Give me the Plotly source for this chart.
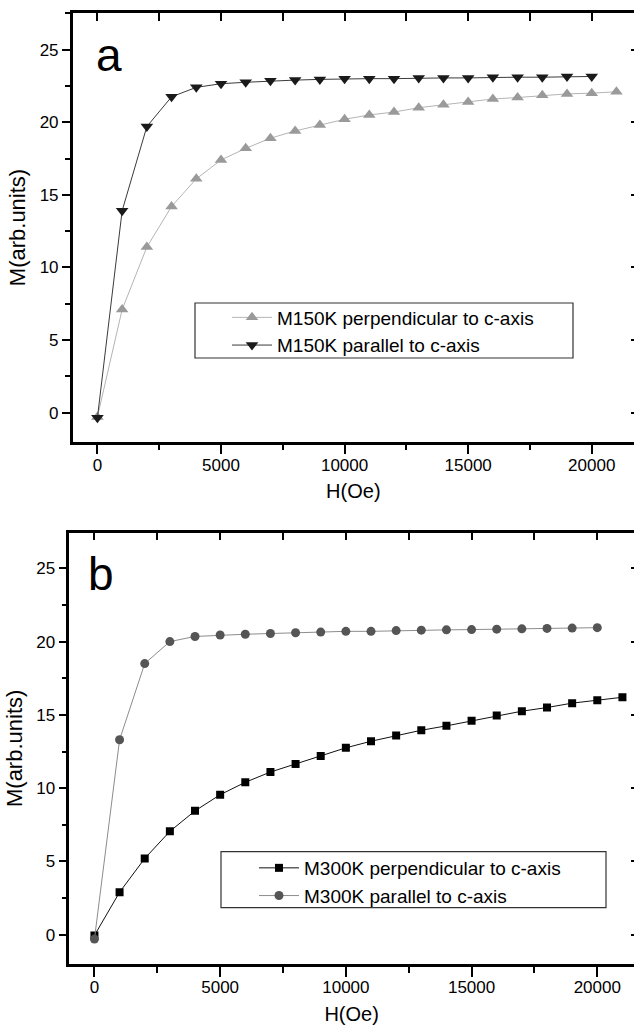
import plotly.graph_objects as go

W, H = 634, 1027

# ---------------- data ----------------
H_a_perp = [0, 1000, 2000, 3000, 4000, 5000, 6000, 7000, 8000, 9000, 10000,
            11000, 12000, 13000, 14000, 15000, 16000, 17000, 18000, 19000, 20000, 21000]
M150_perp = [-0.3, 7.1, 11.4, 14.2, 16.1, 17.4, 18.2, 18.9, 19.4, 19.8, 20.2,
             20.5, 20.7, 21.0, 21.2, 21.4, 21.6, 21.7, 21.85, 21.95, 22.0, 22.1]
H_a_par = [0, 1000, 2000, 3000, 4000, 5000, 6000, 7000, 8000, 9000, 10000,
           11000, 12000, 13000, 14000, 15000, 16000, 17000, 18000, 19000, 20000]
M150_par = [-0.35, 13.9, 19.7, 21.75, 22.4, 22.65, 22.75, 22.85, 22.9, 22.95, 23.0,
            23.0, 23.0, 23.05, 23.05, 23.05, 23.1, 23.1, 23.1, 23.15, 23.15]

H_b_perp = [0, 1000, 2000, 3000, 4000, 5000, 6000, 7000, 8000, 9000, 10000,
            11000, 12000, 13000, 14000, 15000, 16000, 17000, 18000, 19000, 20000, 21000]
M300_perp = [-0.05, 2.9, 5.2, 7.05, 8.45, 9.55, 10.4, 11.1, 11.65, 12.2, 12.75,
             13.2, 13.6, 13.95, 14.25, 14.6, 14.95, 15.25, 15.5, 15.8, 16.0, 16.2]
H_b_par = [0, 1000, 2000, 3000, 4000, 5000, 6000, 7000, 8000, 9000, 10000,
           11000, 12000, 13000, 14000, 15000, 16000, 17000, 18000, 19000, 20000]
M300_par = [-0.3, 13.3, 18.5, 20.0, 20.35, 20.45, 20.5, 20.55, 20.6, 20.65, 20.7,
            20.7, 20.75, 20.78, 20.8, 20.82, 20.85, 20.87, 20.9, 20.92, 20.95]

x_ticks = [0, 5000, 10000, 15000, 20000]
x_tick_labels = ["0", "5000", "10000", "15000", "20000"]
y_ticks = [0, 5, 10, 15, 20, 25]
y_tick_labels = ["0", "5", "10", "15", "20", "25"]

FONT = "Liberation Sans, Arial, Helvetica, sans-serif"

fig = go.Figure()

# panel a
fig.add_trace(go.Scatter(x=H_a_perp, y=M150_perp, mode="lines+markers",
                         name="M150K perpendicular to c-axis",
                         line=dict(color="#b4b4b4", width=1),
                         marker=dict(symbol="triangle-up", size=11, color="#9a9a9a"),
                         xaxis="x", yaxis="y", legend="legend"))
fig.add_trace(go.Scatter(x=H_a_par, y=M150_par, mode="lines+markers",
                         name="M150K parallel to c-axis",
                         line=dict(color="#3a3a3a", width=1),
                         marker=dict(symbol="triangle-down", size=11, color="#1a1a1a"),
                         xaxis="x", yaxis="y", legend="legend"))
# panel b
fig.add_trace(go.Scatter(x=H_b_perp, y=M300_perp, mode="lines+markers",
                         name="M300K perpendicular to c-axis",
                         line=dict(color="#111111", width=1),
                         marker=dict(symbol="square", size=8, color="#000000"),
                         xaxis="x2", yaxis="y2", legend="legend2"))
fig.add_trace(go.Scatter(x=H_b_par, y=M300_par, mode="lines+markers",
                         name="M300K parallel to c-axis",
                         line=dict(color="#8c8c8c", width=1),
                         marker=dict(symbol="circle", size=9, color="#555555"),
                         xaxis="x2", yaxis="y2", legend="legend2"))

# helper traces for mirrored (inside) axes
for xa, ya in [("x3", "y"), ("x4", "y2"), ("x", "y3"), ("x2", "y4")]:
    fig.add_trace(go.Scatter(x=[None], y=[None], xaxis=xa, yaxis=ya,
                             showlegend=False, hoverinfo="skip"))

def px_x(p):
    return p / W

def px_y(p):
    return 1 - p / H

xa_rng = [-1000, 21710]
xb_rng = [-1000, 21460]
ya_rng = [-2, 27.5]
yb_rng = [-2, 27.43]

xdom_a = [px_x(72.7), 1.0]
xdom_b = [px_x(69.3), 1.0]
ydom_a = [px_y(441.7), px_y(13.3)]
ydom_b = [px_y(964), px_y(532.7)]

tickfont = dict(family=FONT, size=17, color="black")
titlefont_x = dict(family=FONT, size=20, color="black")
titlefont_y = dict(family=FONT, size=22, color="black")

def xaxis_main(dom, rng, anchor):
    return dict(domain=dom, range=rng, anchor=anchor, tickmode="array",
                tickvals=x_ticks, ticktext=x_tick_labels,
                ticks="outside", ticklen=10, tickwidth=2, tickcolor="black",
                minor=dict(dtick=2500, tick0=0, ticks="outside", ticklen=6, tickwidth=2, tickcolor="black"),
                showline=True, linewidth=2.5, linecolor="black", showgrid=False,
                zeroline=False, tickfont=tickfont, ticklabelstandoff=-4,
                title=dict(text="H(Oe)", font=titlefont_x, standoff=11),
                automargin=False)

def yaxis_main(dom, rng, anchor):
    return dict(domain=dom, range=rng, anchor=anchor, tickmode="array",
                tickvals=y_ticks, ticktext=y_tick_labels,
                ticks="outside", ticklen=8, tickwidth=2, tickcolor="black",
                minor=dict(dtick=2.5, tick0=0, ticks="outside", ticklen=5, tickwidth=2, tickcolor="black"),
                showline=True, linewidth=2.5, linecolor="black", showgrid=False,
                zeroline=False, tickfont=tickfont,
                title=dict(text="M(arb.units)", font=titlefont_y, standoff=8),
                automargin=False)

def xaxis_top(rng, over, anchor):
    return dict(overlaying=over, anchor=anchor, side="top", range=rng,
                dtick=2500, tick0=0, ticks="inside", ticklen=8, tickwidth=2, tickcolor="black",
                showticklabels=False, showline=True, linewidth=2.5, linecolor="black",
                showgrid=False, zeroline=False)

def yaxis_right(rng, over, anchor):
    return dict(overlaying=over, anchor=anchor, side="right", range=rng,
                dtick=5, tick0=0, ticks="inside", ticklen=3, tickwidth=2, tickcolor="black",
                showticklabels=False, showline=False, showgrid=False, zeroline=False)

legend_common = dict(bgcolor="rgba(0,0,0,0)", borderwidth=0,
                     font=dict(family=FONT, size=19, color="black"),
                     xanchor="left", yanchor="top", tracegroupgap=0, itemwidth=40)

fig.update_layout(
    width=W, height=H,
    margin=dict(l=0, r=0, t=0, b=0),
    paper_bgcolor="white", plot_bgcolor="white",
    font=dict(family=FONT, color="black"),
    xaxis=xaxis_main(xdom_a, xa_rng, "y"),
    yaxis=yaxis_main(ydom_a, ya_rng, "x"),
    xaxis2=xaxis_main(xdom_b, xb_rng, "y2"),
    yaxis2=yaxis_main(ydom_b, yb_rng, "x2"),
    xaxis3=xaxis_top(xa_rng, "x", "y"),
    xaxis4=xaxis_top(xb_rng, "x2", "y2"),
    yaxis3=yaxis_right(ya_rng, "y", "x"),
    yaxis4=yaxis_right(yb_rng, "y2", "x2"),
    legend=dict(x=px_x(227), y=px_y(298.5), **legend_common),
    legend2=dict(x=px_x(254), y=px_y(849), **legend_common),
    shapes=[
        dict(type="rect", xref="paper", yref="paper",
             x0=px_x(195), x1=px_x(573), y0=px_y(358), y1=px_y(303),
             line=dict(color="#333333", width=1.2), fillcolor="rgba(0,0,0,0)"),
        dict(type="rect", xref="paper", yref="paper",
             x0=px_x(221), x1=px_x(606), y0=px_y(907.7), y1=px_y(851.7),
             line=dict(color="#333333", width=1.2), fillcolor="rgba(0,0,0,0)"),
    ],
    annotations=[
        dict(text="a", xref="paper", yref="paper", x=px_x(94), y=px_y(55),
             xanchor="left", yanchor="middle", showarrow=False,
             font=dict(family=FONT, size=46, color="black")),
        dict(text="b", xref="paper", yref="paper", x=px_x(86), y=px_y(574),
             xanchor="left", yanchor="middle", showarrow=False,
             font=dict(family=FONT, size=46, color="black")),
    ],
    showlegend=True,
)

fig.write_html("out.html", config={"displayModeBar": False},
               post_script="document.body.style.margin='0';document.body.style.overflow='hidden';")
